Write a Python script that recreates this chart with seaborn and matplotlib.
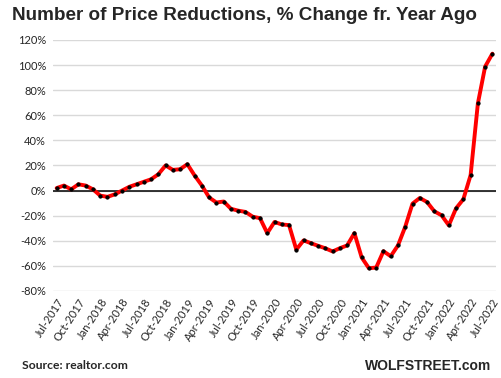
import numpy as np
import pandas as pd
import matplotlib
matplotlib.use("Agg")
import matplotlib.pyplot as plt
import seaborn as sns

# monthly, Jul-2017 .. Jul-2022
months = pd.date_range("2017-07-01", "2022-07-01", freq="MS")
pct_change = [
    2, 4, 1, 5, 4, 1, -4, -5, -3, 0, 3, 5,
    7, 9, 13, 20, 16.5, 17, 21, 12, 4, -5.5, -9.5, -8.7,
    -14.5, -16, -17, -20.8, -22, -33.9, -25, -27, -27.5, -47, -39.7, -41.9,
    -44, -46, -48.5, -45.9, -43.7, -33.9, -53.3, -61.9, -61.3, -48.3, -52.3, -43.7,
    -28.8, -10.4, -5.9, -9.1, -16.5, -19.7, -27.7, -14.1, -6.9, 12.3, 69.4, 98.8,
    109.1,
]
tick_labels = [m.strftime("%b-%Y") for m in months[::3]]
title = "Number of Price Reductions, % Change fr. Year Ago"

df = pd.DataFrame({"i": np.arange(len(months)), "pct": pct_change})

sns.set_style("white")
plt.rcParams["font.family"] = ["Lato", "DejaVu Sans"]

fig = plt.figure(figsize=(5.02, 3.78), dpi=100)
ax = fig.add_axes([0.1056, 0.2302, 0.8825, 0.664])

ax.axhline(0, color="black", lw=1.1, zorder=2)
sns.lineplot(data=df, x="i", y="pct", ax=ax, color="red", lw=2.8,
             marker="o", markersize=2.3, markerfacecolor="black",
             markeredgecolor="black", zorder=3)

ax.set_ylim(-80, 120)
ax.set_xlim(-0.5, len(months) - 0.5)
ax.set_yticks(range(-80, 121, 20))
ax.set_yticklabels([f"{v}%" for v in range(-80, 121, 20)], fontsize=8)
ax.yaxis.grid(True, color="#d9d9d9", lw=1)
ax.set_xticks(df["i"][::3])
ax.set_xticklabels(tick_labels, rotation=57, ha="right", va="top",
                   rotation_mode="anchor", fontsize=8)
ax.tick_params(length=0, pad=5)
ax.tick_params(axis="x", pad=4)
for s in ax.spines.values():
    s.set_visible(False)
ax.set_xlabel("")
ax.set_ylabel("")

fig.text(0.487, 0.958, title, ha="center", va="center", fontsize=13.6,
         fontweight="bold", family="Liberation Sans")
fig.text(0.044, 0.032, "Source: realtor.com", ha="left", va="center",
         fontsize=8.7, fontweight="bold")
fig.text(0.978, 0.032, "WOLFSTREET.com", ha="right", va="center",
         fontsize=10, fontweight="bold", family="Liberation Sans")

fig.savefig("out.png", dpi=100)
